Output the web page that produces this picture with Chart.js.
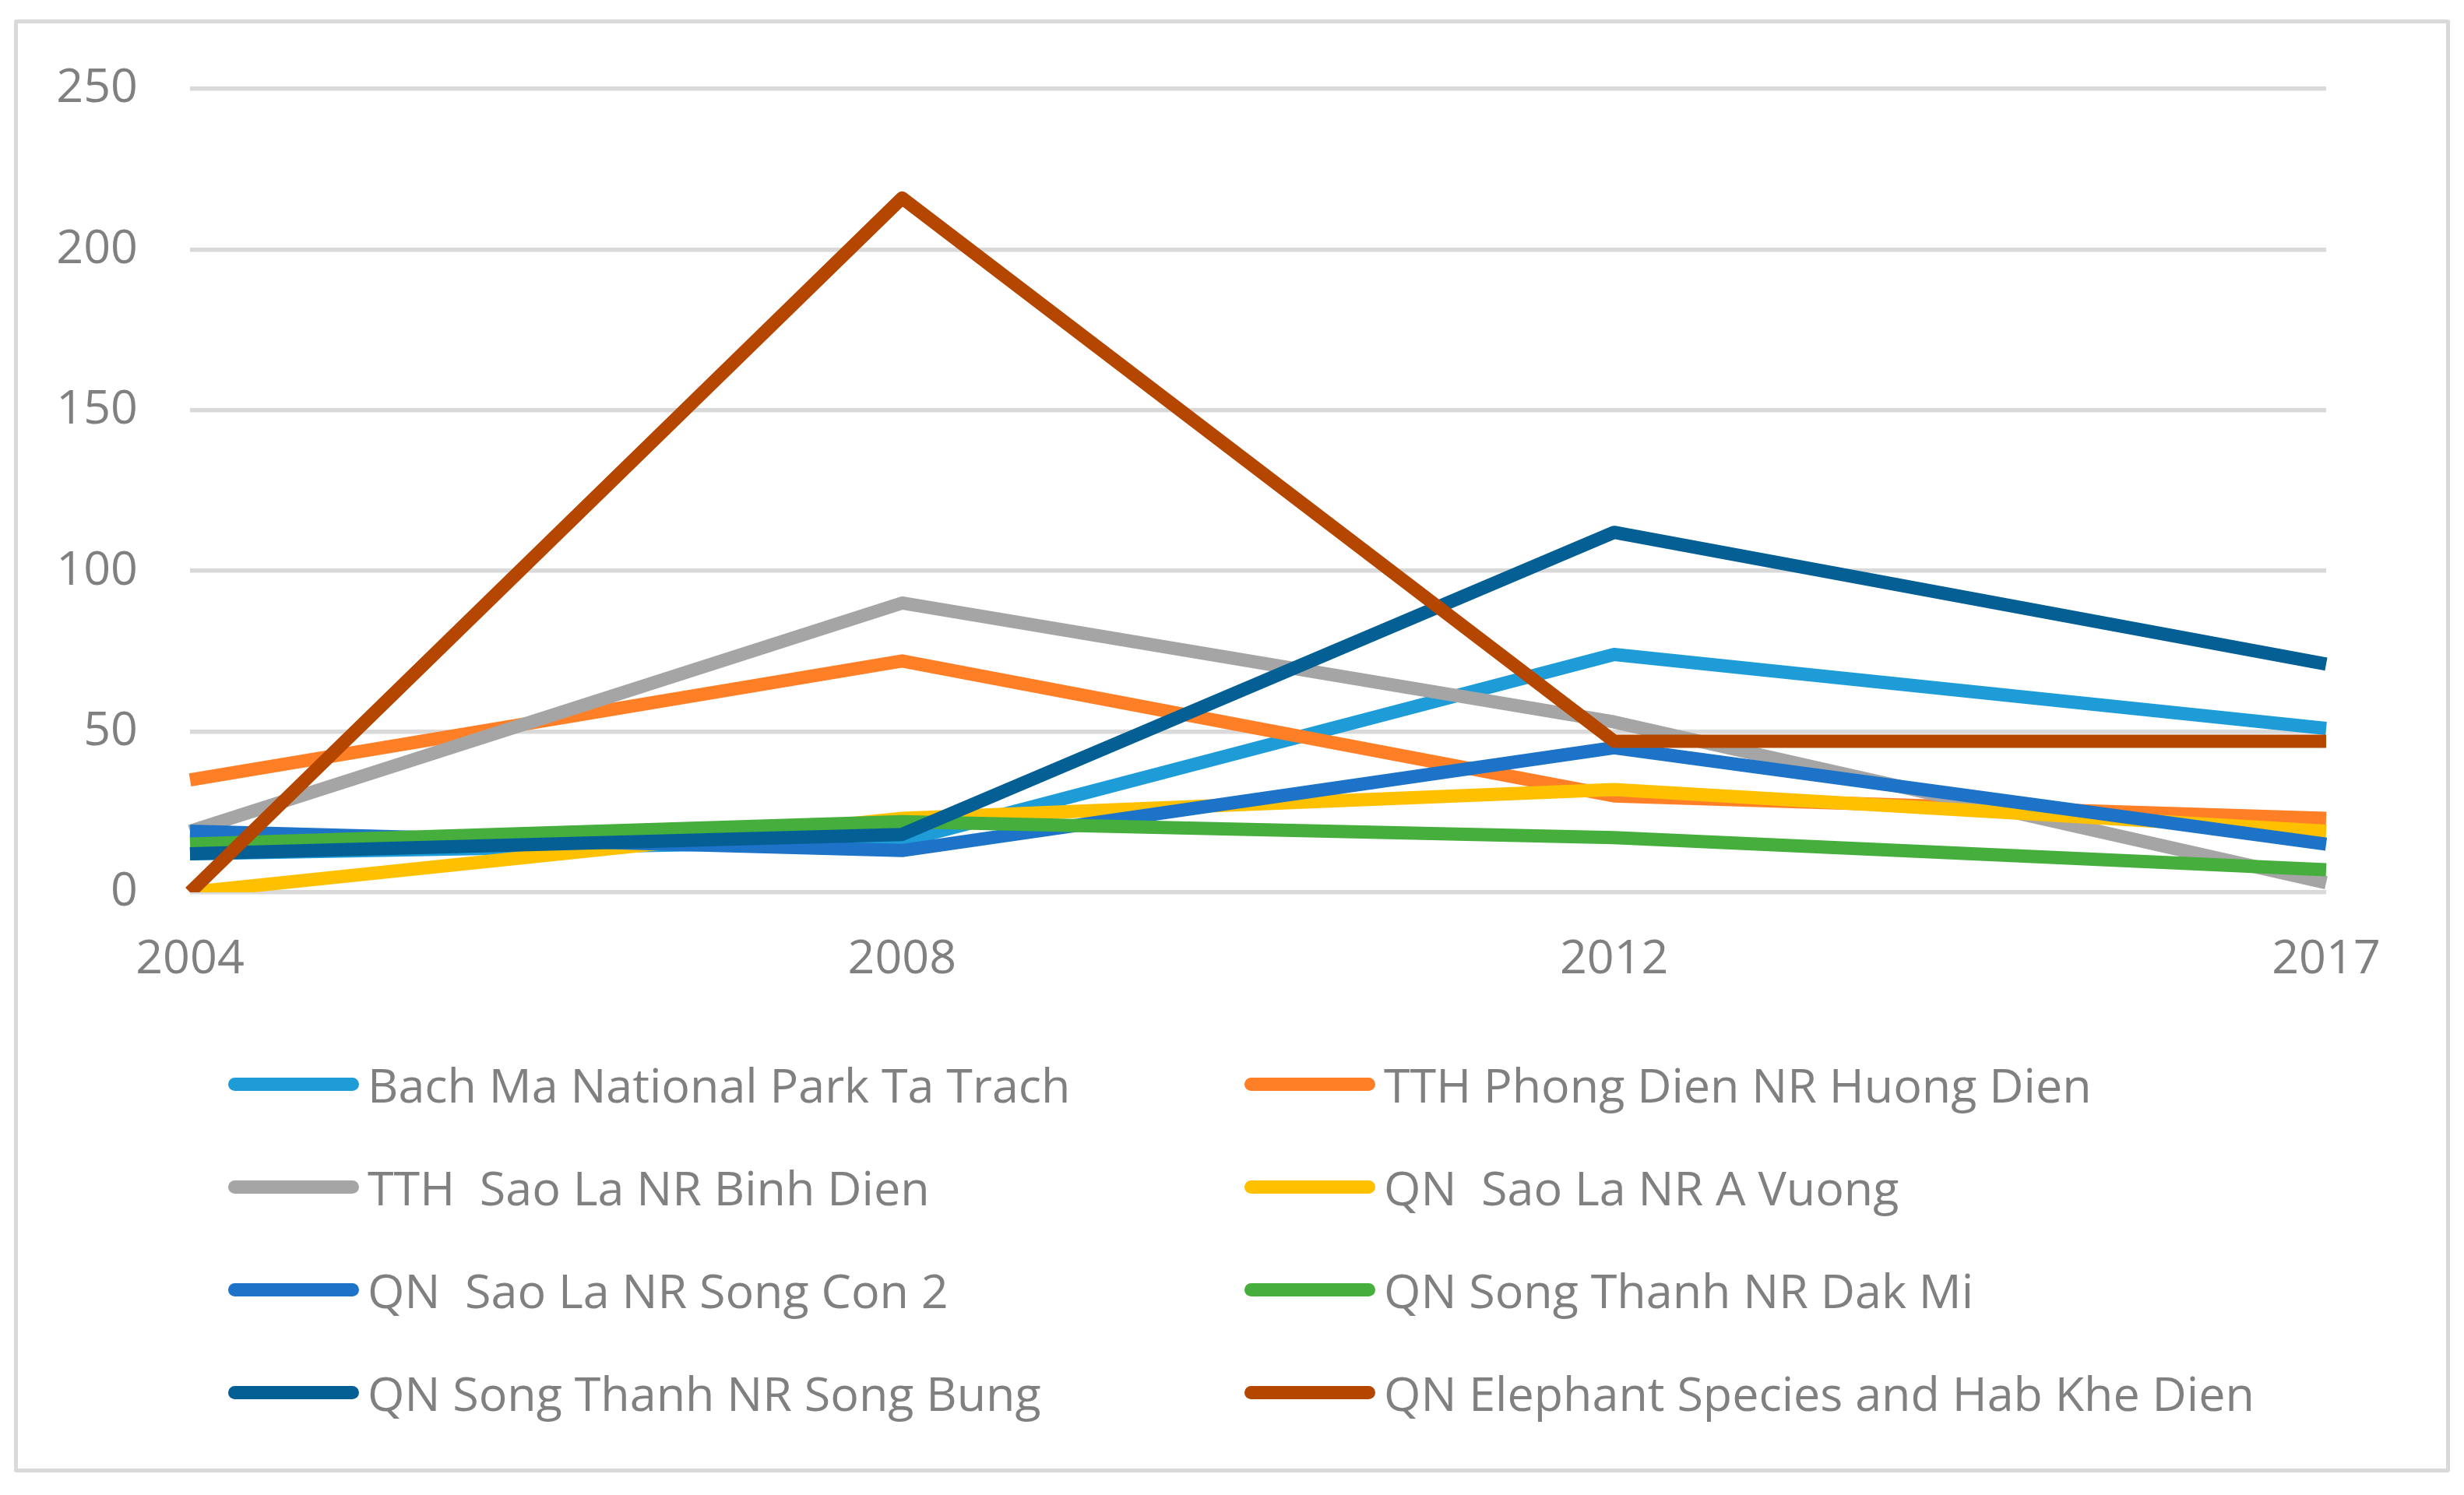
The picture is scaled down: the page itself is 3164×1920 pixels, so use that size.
<!DOCTYPE html>
<html>
<head>
<meta charset="utf-8">
<script src="https://cdn.jsdelivr.net/npm/chart.js@4.4.1/dist/chart.umd.min.js"></script>
<style>
    html, body { margin: 0; padding: 0; background: #fff; }
    body { width: 3164px; height: 1920px; position: relative; overflow: hidden; font-family: "Open Sans", sans-serif; }
    #frame { position: absolute; left: 18px; top: 25px; width: 3118px; height: 1856px; border: 5px solid #d9d9d9; border-radius: 3px; }
    #chartCanvas { position: absolute; left: 0; top: 0; }
    #legend { position: absolute; left: 0; top: 0; }
    .item { position: absolute; height: 132px; display: flex; align-items: center; }
    .swatch { width: 168px; height: 17px; border-radius: 9px; margin-right: 11px; }
    .label { font-size: 61px; line-height: 1; color: #808080; white-space: pre; }
</style>
</head>
<body>
<div id="frame"></div>
<canvas id="chartCanvas" width="3164" height="1300"></canvas>
<div id="legend"></div>
<script>
// Years on the x axis
const years = ['2004', '2008', '2012', '2017'];

// Series names (as in the legend)
const seriesNames = [
    'Bach Ma National Park Ta Trach',
    'TTH Phong Dien NR Huong Dien',
    'TTH  Sao La NR Binh Dien',
    'QN  Sao La NR A Vuong',
    'QN  Sao La NR Song Con 2',
    'QN Song Thanh NR Dak Mi',
    'QN Song Thanh NR Song Bung',
    'QN Elephant Species and Hab Khe Dien'
];

// Values, one array per series
const bachMa = [12, 16, 74, 51];
const phongDien = [35, 72, 30, 23];
const saoLaBinhDien = [19, 90, 53, 3];
const saoLaAVuong = [0, 23, 32, 19];
const saoLaSongCon = [19, 13, 45, 15];
const songThanhDakMi = [15, 22, 17, 7];
const songThanhSongBung = [12, 18, 112, 71];
const elephantKheDien = [0, 216, 47, 47];

const seriesValues = [bachMa, phongDien, saoLaBinhDien, saoLaAVuong,
    saoLaSongCon, songThanhDakMi, songThanhSongBung, elephantKheDien];

const seriesColors = ['#1e9cd8', '#ff7f27', '#a5a5a5', '#ffc000',
    '#1c73c7', '#45ae3c', '#045f94', '#b54600'];

// y axis ticks
const yTicks = [0, 50, 100, 150, 200, 250];

const textColor = '#808080';
const fontFamily = '"Open Sans", sans-serif';

const ctx = document.getElementById('chartCanvas').getContext('2d');
const chart = new Chart(ctx, {
    type: 'line',
    data: {
        labels: years,
        datasets: seriesNames.map((name, i) => ({
            label: name,
            data: seriesValues[i],
            borderColor: seriesColors[i],
            backgroundColor: seriesColors[i],
            borderWidth: 17,
            borderJoinStyle: 'round',
            borderCapStyle: 'butt',
            pointRadius: 0,
            pointHoverRadius: 0,
            tension: 0,
            fill: false,
            order: seriesNames.length - i
        }))
    },
    options: {
        responsive: false,
        devicePixelRatio: 1,
        animation: false,
        layout: {
            padding: { top: 114, right: 177, left: 0, bottom: 0 }
        },
        plugins: {
            legend: { display: false },
            tooltip: { enabled: false }
        },
        scales: {
            x: {
                offset: false,
                grid: { display: false, drawTicks: false },
                border: { display: false },
                ticks: {
                    color: textColor,
                    font: { family: fontFamily, size: 61 },
                    padding: 50,
                    maxRotation: 0,
                    autoSkip: false
                },
                afterFit: scale => { scale.height = 154; }
            },
            y: {
                min: 0,
                max: 250,
                grid: { color: '#d9d9d9', lineWidth: 5.5, drawTicks: false },
                border: { display: false },
                afterBuildTicks: scale => { scale.ticks = yTicks.map(v => ({ value: v })); },
                ticks: {
                    color: textColor,
                    font: { family: fontFamily, size: 61 },
                    padding: 67
                },
                afterFit: scale => { scale.width = 244; }
            }
        }
    }
});

// HTML legend in two columns, built from the chart's datasets
function buildLegend() {
    const legend = document.getElementById('legend');
    const colLeft = [293, 1598];
    const firstRowCenter = 1392;
    const rowStep = 132;
    chart.data.datasets.forEach((ds, i) => {
        const item = document.createElement('div');
        item.className = 'item';
        item.style.left = colLeft[i % 2] + 'px';
        item.style.top = (firstRowCenter + Math.floor(i / 2) * rowStep - 66) + 'px';
        const swatch = document.createElement('div');
        swatch.className = 'swatch';
        swatch.style.background = ds.borderColor;
        const label = document.createElement('span');
        label.className = 'label';
        label.textContent = ds.label;
        item.appendChild(swatch);
        item.appendChild(label);
        legend.appendChild(item);
    });
}

buildLegend();
</script>
</body>
</html>
